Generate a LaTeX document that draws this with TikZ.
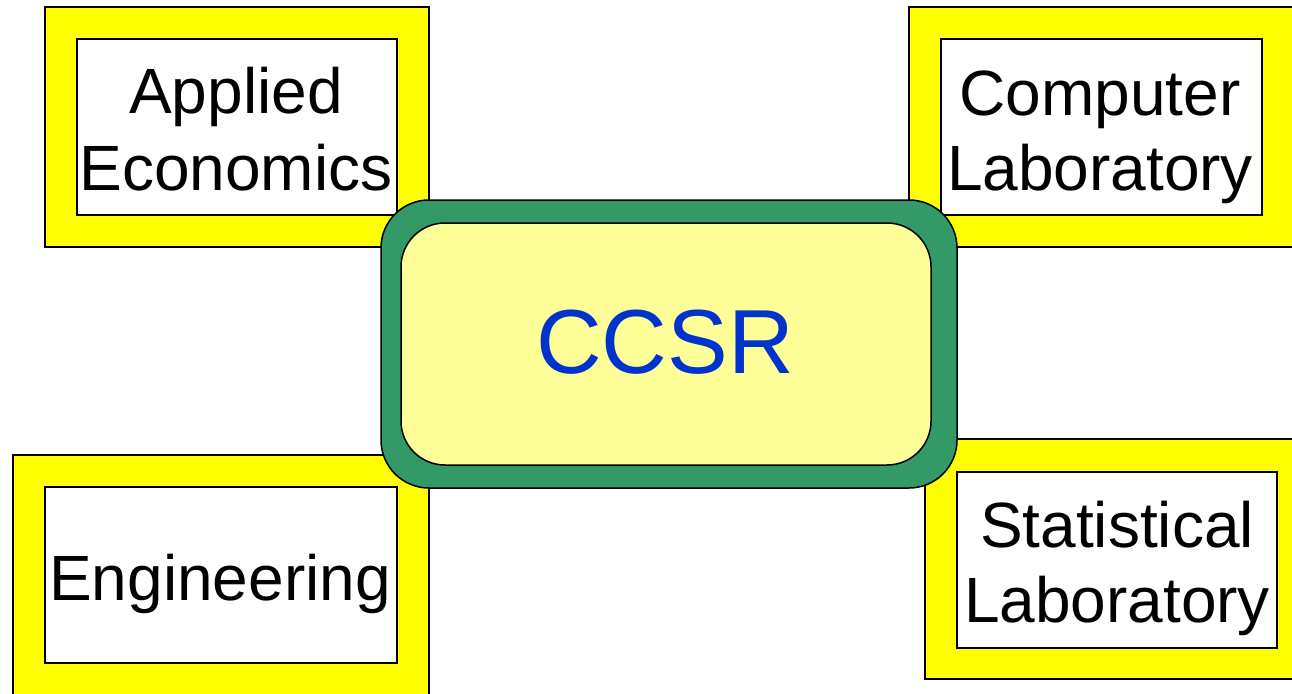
\documentclass[tikz,border=0pt]{standalone}
\usepackage{fontspec}
\setmainfont{Liberation Sans}
\definecolor{boxyellow}{HTML}{FFFF00}
\definecolor{ccsrgreen}{HTML}{339966}
\definecolor{ccsrfill}{HTML}{FFFF99}
\definecolor{ccsrblue}{HTML}{0033CC}
\tikzset{
  frame/.style={draw=black, line width=1.5pt, fill=boxyellow, inner sep=0pt, rectangle},
  panel/.style={draw=black, line width=1.5pt, fill=white, inner sep=0pt, rectangle},
  label/.style={inner sep=0pt, anchor=base, font=\fontsize{64}{77}\selectfont},
  greenring/.style={draw=black, line width=1.5pt, fill=ccsrgreen, rounded corners=48pt, inner sep=0pt, rectangle},
  ccsrcore/.style={draw=black, line width=1.5pt, fill=ccsrfill, rounded corners=44pt, inner sep=0pt, rectangle},
}
\begin{document}
\begin{tikzpicture}[x=1pt,y=-1pt]
\useasboundingbox (0,0) rectangle (1292,693);
% Applied Economics
\node[frame, minimum width=384pt, minimum height=240pt] (aeo) at (237,127) {};
\node[panel, minimum width=320pt, minimum height=176pt] (aei) at (237,127) {};
\node[label] (ae1) at (236,113) {Applied};
\node[label] (ae2) at (236,190) {Economics};
% Computer Laboratory
\node[frame, minimum width=385pt, minimum height=240pt] (clo) at (1101.5,127) {};
\node[panel, minimum width=321pt, minimum height=176pt] (cli) at (1101.5,127) {};
\node[label] (cl1) at (1100,115) {Computer};
\node[label] (cl2) at (1100,190) {Laboratory};
% Engineering
\node[frame, minimum width=416pt, minimum height=240pt] (eno) at (221,575) {};
\node[panel, minimum width=352pt, minimum height=176pt] (eni) at (221,575) {};
\node[label] (en1) at (220,600) {Engineering};
% Statistical Laboratory
\node[frame, minimum width=384pt, minimum height=240pt] (slo) at (1117,559) {};
\node[panel, minimum width=320pt, minimum height=176pt] (sli) at (1117,560) {};
\node[label] (sl1) at (1117,547) {Statistical};
\node[label] (sl2) at (1117,622) {Laboratory};
% CCSR
\node[greenring, minimum width=576pt, minimum height=288pt] (ccsro) at (669,344) {};
\node[ccsrcore, minimum width=530pt, minimum height=242pt] (ccsri) at (666,344) {};
\node[inner sep=0pt, anchor=base, text=ccsrblue, font=\fontsize{91}{100}\selectfont] (ccsrt) at (665,373) {CCSR};
\end{tikzpicture}
\end{document}
